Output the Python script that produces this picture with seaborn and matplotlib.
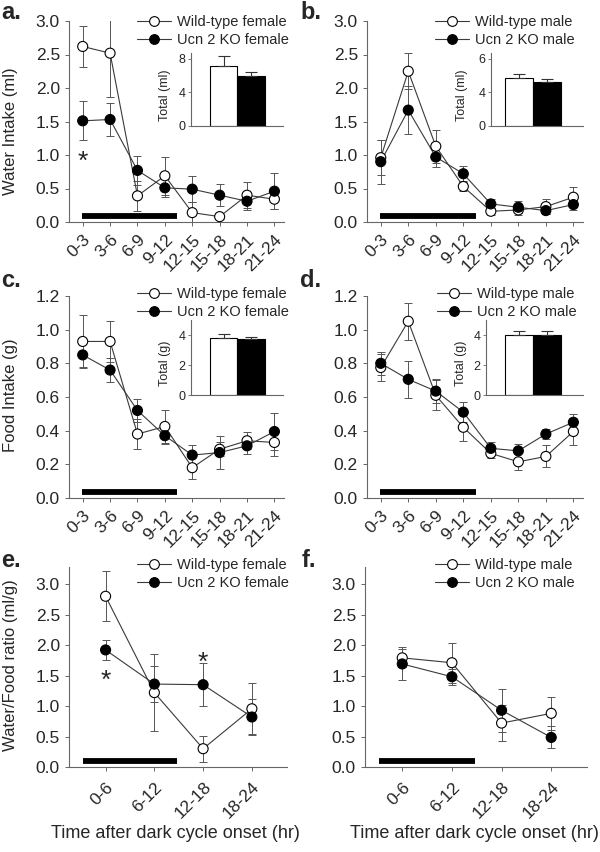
import numpy as np
import pandas as pd
import matplotlib.pyplot as plt
from matplotlib.lines import Line2D
import seaborn as sns

sns.set_style('ticks')
plt.rcParams['font.family'] = ['Liberation Sans', 'DejaVu Sans']

##### Data ###################################################################

bins_3h = ['0-3', '3-6', '6-9', '9-12', '12-15', '15-18', '18-21', '21-24']
bins_6h = ['0-6', '6-12', '12-18', '18-24']

# a. water intake, female (ml)
water_f_wt = [2.62, 2.52, 0.39, 0.69, 0.14, 0.08, 0.40, 0.34]
water_f_wt_sem = [0.31, 0.66, 0.22, 0.28, 0.16, 0.03, 0.19, 0.15]
water_f_ko = [1.51, 1.53, 0.77, 0.51, 0.49, 0.40, 0.31, 0.46]
water_f_ko_sem = [0.29, 0.25, 0.22, 0.13, 0.19, 0.16, 0.13, 0.27]
water_f_total = [7.1, 5.9]
water_f_total_sem = [1.2, 0.55]

# b. water intake, male (ml)
water_m_wt = [0.96, 2.25, 1.13, 0.53, 0.16, 0.18, 0.23, 0.37]
water_m_wt_sem = [0.26, 0.27, 0.25, 0.06, 0.05, 0.08, 0.11, 0.15]
water_m_ko = [0.90, 1.67, 0.97, 0.72, 0.27, 0.22, 0.17, 0.26]
water_m_ko_sem = [0.33, 0.36, 0.15, 0.11, 0.07, 0.09, 0.05, 0.08]
water_m_total = [5.75, 5.2]
water_m_total_sem = [0.4, 0.45]

# c. food intake, female (g)
food_f_wt = [0.93, 0.93, 0.38, 0.425, 0.18, 0.29, 0.34, 0.33]
food_f_wt_sem = [0.16, 0.12, 0.09, 0.10, 0.07, 0.04, 0.05, 0.08]
food_f_ko = [0.85, 0.76, 0.52, 0.37, 0.255, 0.27, 0.31, 0.395]
food_f_ko_sem = [0.07, 0.07, 0.07, 0.05, 0.06, 0.10, 0.05, 0.11]
food_f_total = [3.8, 3.75]
food_f_total_sem = [0.3, 0.1]

# d. food intake, male (g)
food_m_wt = [0.775, 1.05, 0.61, 0.42, 0.265, 0.215, 0.247, 0.395]
food_m_wt_sem = [0.08, 0.11, 0.09, 0.08, 0.03, 0.05, 0.065, 0.08]
food_m_ko = [0.80, 0.705, 0.635, 0.51, 0.295, 0.28, 0.38, 0.45]
food_m_ko_sem = [0.07, 0.11, 0.07, 0.06, 0.04, 0.04, 0.03, 0.05]
food_m_total = [4.0, 4.0]
food_m_total_sem = [0.27, 0.25]

# e. water/food ratio, female (ml/g)
ratio_f_wt = [2.80, 1.22, 0.30, 0.955]
ratio_f_wt_sem = [0.41, 0.63, 0.21, 0.42]
ratio_f_ko = [1.92, 1.36, 1.35, 0.82]
ratio_f_ko_sem = [0.17, 0.29, 0.35, 0.30]

# f. water/food ratio, male (ml/g)
ratio_m_wt = [1.79, 1.71, 0.72, 0.88]
ratio_m_wt_sem = [0.15, 0.33, 0.30, 0.27]
ratio_m_ko = [1.69, 1.48, 0.93, 0.485]
ratio_m_ko_sem = [0.27, 0.13, 0.35, 0.18]

W, H = 600, 852
LINE = '#3a3a3a'
ERR = '#555555'


def fig_box(left, top, right, bottom):
    return [left / W, 1 - bottom / H, (right - left) / W, (bottom - top) / H]


def main_panel(ax, cats, wt, wt_sem, ko, ko_sem, names, ylim, yticks,
               xlim, dark, legend_xy, rot_pad):
    x = np.arange(len(cats))
    df = pd.DataFrame({'x': np.r_[x, x], 'y': np.r_[wt, ko],
                       'group': [names[0]] * len(x) + [names[1]] * len(x)})
    ax.errorbar(x, wt, yerr=wt_sem, fmt='none', ecolor=ERR, elinewidth=0.7,
                capsize=3, capthick=0.7, zorder=1)
    ax.errorbar(x, ko, yerr=ko_sem, fmt='none', ecolor=ERR, elinewidth=0.7,
                capsize=3, capthick=0.7, zorder=1)
    sns.lineplot(data=df, x='x', y='y', units='group', estimator=None,
                 color=LINE, lw=0.8, ax=ax, zorder=2)
    sns.scatterplot(data=df, x='x', y='y', hue='group',
                    palette={names[0]: 'white', names[1]: 'black'},
                    edgecolor='black', linewidth=0.8, s=52, legend=False,
                    ax=ax, zorder=3, clip_on=False)
    # dark phase bar
    ax.plot(dark, [0.085 * ylim[1] / 3.0] * 2, color='black', lw=4.2,
            solid_capstyle='butt', zorder=2)
    ax.set_xlim(*xlim)
    ax.set_ylim(*ylim)
    ax.set_yticks(yticks)
    ax.set_yticklabels([f'{v:.1f}' for v in yticks])
    ax.set_xticks(x)
    ax.set_xticklabels(cats, rotation=45, ha='right', va='top',
                       rotation_mode='anchor')
    ax.set_xlabel('')
    ax.set_ylabel('')
    ax.tick_params(axis='both', labelsize=12.5, length=3, width=0.7,
                   color='#666666')
    ax.tick_params(axis='x', pad=rot_pad)
    for s in ['top', 'right']:
        ax.spines[s].set_visible(False)
    for s in ['left', 'bottom']:
        ax.spines[s].set_color('#666666')
        ax.spines[s].set_linewidth(0.8)
    handles = [Line2D([], [], color=LINE, lw=0.8, marker='o', markersize=7,
                      markerfacecolor=fc, markeredgecolor='black',
                      markeredgewidth=0.8) for fc in ['white', 'black']]
    ax.legend(handles, names, loc='upper left',
              bbox_to_anchor=(legend_xy[0] / W, 1 - legend_xy[1] / H),
              bbox_transform=fig.transFigure, frameon=False, fontsize=10.5,
              handlelength=2.3, handletextpad=0.45, labelspacing=0.3,
              borderpad=0, borderaxespad=0)


def inset_panel(box, totals, sems, ylim, yticks, ticklabels, ylabel, xlim,
                label_x):
    ax = fig.add_axes(box)
    sns.barplot(x=['WT', 'KO'], y=totals, hue=['WT', 'KO'],
                palette=['white', 'black'], edgecolor='black', linewidth=0.8,
                width=1.0, legend=False, ax=ax)
    ax.errorbar([0, 1], totals, yerr=[[0, 0], sems], fmt='none',
                ecolor='#333333', elinewidth=0.8, capsize=4, capthick=0.8)
    ax.set_xlim(*xlim)
    ax.set_ylim(*ylim)
    ax.set_yticks(yticks)
    ax.set_yticklabels(ticklabels)
    ax.set_xticks([])
    ax.set_ylabel(ylabel, fontsize=9)
    ax.yaxis.set_label_coords(label_x, 0.42)
    ax.tick_params(axis='y', labelsize=9, length=2, width=0.6, pad=2,
                   color='#666666')
    for s in ['top', 'right']:
        ax.spines[s].set_visible(False)
    for s in ['left', 'bottom']:
        ax.spines[s].set_color('#666666')
        ax.spines[s].set_linewidth(0.8)
    ax.patch.set_alpha(0)
    return ax


fig = plt.figure(figsize=(6, 8.52), dpi=100)

xl8 = (-0.5, 7.35)
xl4 = (-0.75, 3.72)
dark8 = [-0.04, 3.45]
dark4 = [-0.47, 1.47]
yt3 = np.arange(0, 3.01, 0.5)
yt12 = np.arange(0, 1.21, 0.2)

fem = ['Wild-type female', 'Ucn 2 KO female']
mal = ['Wild-type male', 'Ucn 2 KO male']

ax_a = fig.add_axes(fig_box(69, 21, 284, 222))
main_panel(ax_a, bins_3h, water_f_wt, water_f_wt_sem, water_f_ko,
           water_f_ko_sem, fem, (0, 3.0), yt3, xl8, dark8, (137, 15), 4)
ax_a.text(0, 0.9, '*', fontsize=19, ha='center', va='center')
ax_a.set_ylabel('Water Intake (ml)', fontsize=12)
ax_a.yaxis.set_label_coords(-0.235, 0.45)

ax_b = fig.add_axes(fig_box(367, 21, 583, 222))
main_panel(ax_b, bins_3h, water_m_wt, water_m_wt_sem, water_m_ko,
           water_m_ko_sem, mal, (0, 3.0), yt3, xl8, dark8, (435, 15), 4)

ax_c = fig.add_axes(fig_box(69, 296, 284, 498))
main_panel(ax_c, bins_3h, food_f_wt, food_f_wt_sem, food_f_ko,
           food_f_ko_sem, fem, (0, 1.2), yt12, xl8, dark8, (137, 287), 4)
ax_c.set_ylabel('Food Intake (g)', fontsize=12)
ax_c.yaxis.set_label_coords(-0.235, 0.51)

ax_d = fig.add_axes(fig_box(367, 296, 583, 498))
main_panel(ax_d, bins_3h, food_m_wt, food_m_wt_sem, food_m_ko,
           food_m_ko_sem, mal, (0, 1.2), yt12, xl8, dark8, (437, 287), 4)

ax_e = fig.add_axes(fig_box(69, 567, 287, 767))
main_panel(ax_e, bins_6h, ratio_f_wt, ratio_f_wt_sem, ratio_f_ko,
           ratio_f_ko_sem, fem, (0, 3.28), yt3, xl4, dark4, (137, 558), 6)
ax_e.text(0, 1.42, '*', fontsize=19, ha='center', va='center')
ax_e.text(2, 1.70, '*', fontsize=19, ha='center', va='center')
ax_e.set_ylabel('Water/Food ratio (ml/g)', fontsize=12)
ax_e.yaxis.set_label_coords(-0.232, 0.51)

ax_f = fig.add_axes(fig_box(365, 567, 587, 767))
main_panel(ax_f, bins_6h, ratio_m_wt, ratio_m_wt_sem, ratio_m_ko,
           ratio_m_ko_sem, mal, (0, 3.28), yt3, xl4, dark4, (435, 558), 6)

# insets with 24 h totals
inset_panel(fig_box(191, 53, 283, 126), water_f_total, water_f_total_sem,
            (0, 8.7), [0, 4, 8], ['0', '4', '8'], 'Total (ml)', (-1.18, 2.16),
            -0.22)
inset_panel(fig_box(491, 53, 583, 126), water_m_total, water_m_total_sem,
            (0, 8.7), [0, 4, 8], ['0', '4', '6'], 'Total (ml)', (-1.02, 2.29),
            -0.25)
inset_panel(fig_box(191, 320, 283, 395), food_f_total, food_f_total_sem,
            (0, 5.0), [0, 2, 4], ['0', '2', '4'], 'Total (g)', (-1.18, 2.16),
            -0.22)
inset_panel(fig_box(486, 320, 583, 395), food_m_total, food_m_total_sem,
            (0, 5.0), [0, 2, 4], ['0', '2', '4'], 'Total (g)', (-1.2, 2.29),
            -0.20)

# panel letters
for letter, (px, py) in zip('abcdef', [(1, 19), (300, 19), (1, 287),
                                        (300, 287), (1, 567), (302, 567)]):
    fig.text(px / W, 1 - py / H, letter + '.', fontsize=17,
             fontweight='bold', ha='left', va='baseline')

for cx in [175, 474]:
    fig.text(cx / W, 1 - 833 / H, 'Time after dark cycle onset (hr)',
             fontsize=13, ha='center', va='center')

fig.savefig('out.png', dpi=100)
